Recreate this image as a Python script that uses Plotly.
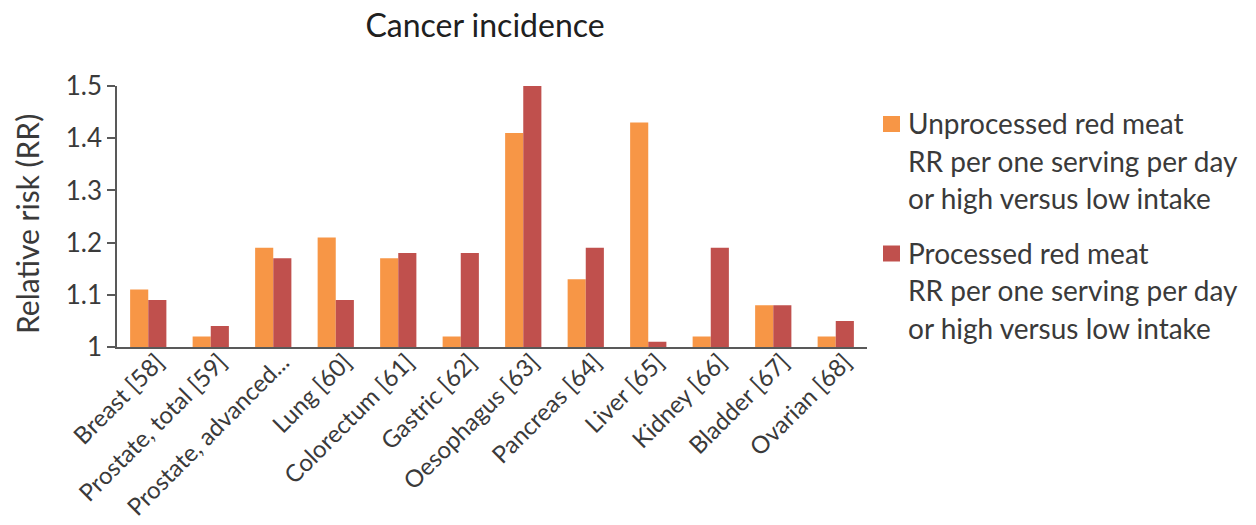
import plotly.graph_objects as go

# Cancer sites with reference numbers
categories = [
    "Breast [58]", "Prostate, total [59]", "Prostate, advanced...", "Lung [60]",
    "Colorectum [61]", "Gastric [62]", "Oesophagus [63]", "Pancreas [64]",
    "Liver [65]", "Kidney [66]", "Bladder [67]", "Ovarian [68]",
]
unprocessed_rr = [1.11, 1.02, 1.19, 1.21, 1.17, 1.02, 1.41, 1.13, 1.43, 1.02, 1.08, 1.02]
processed_rr = [1.09, 1.04, 1.17, 1.09, 1.18, 1.18, 1.50, 1.19, 1.01, 1.19, 1.08, 1.05]

y_tickvals = [1.0, 1.1, 1.2, 1.3, 1.4, 1.5]
y_ticktext = ["1", "1.1", "1.2", "1.3", "1.4", "1.5"]

legend_lines = [
    ["Unprocessed red meat", "RR per one serving per day", "or high versus low intake"],
    ["Processed red meat", "RR per one serving per day", "or high versus low intake"],
]

ORANGE = "#F79646"
RED = "#C0504D"
TEXT = "#3a3a3a"
AXIS = "#595959"
FONT = "Lato, 'Open Sans', sans-serif"

# Plot-area geometry in pixels
L, R, T, B = 117, 867, 86, 347
PW, PH = R - L, B - T

def px(x):
    return (x - L) / PW

def py(y):
    return (B - y) / PH

fig = go.Figure()
fig.add_trace(go.Bar(x=categories, y=unprocessed_rr, marker=dict(color=ORANGE, line=dict(width=0)),
                     name=legend_lines[0][0]))
fig.add_trace(go.Bar(x=categories, y=processed_rr, marker=dict(color=RED, line=dict(width=0)),
                     name=legend_lines[1][0]))

fig.update_layout(
    width=1256, height=525,
    margin=dict(l=L, r=1256 - R, t=T, b=525 - B),
    paper_bgcolor="white", plot_bgcolor="white",
    barmode="group", bargap=0.42, bargroupgap=0,
    showlegend=False,
    font=dict(family=FONT, color=TEXT),
    title=dict(text="Cancer incidence", x=485 / 1256, xanchor="center",
               y=1 - 26 / 525, yanchor="middle",
               font=dict(size=32, family=FONT, color="#202020")),
)

fig.update_yaxes(
    range=[1.0, 1.5], tickvals=y_tickvals, ticktext=y_ticktext,
    showgrid=False, zeroline=False, automargin=False,
    showline=True, linecolor=AXIS, linewidth=1.5,
    ticks="outside", ticklen=8, tickcolor=AXIS, tickwidth=1.5,
    tickfont=dict(size=26, family=FONT, color=TEXT),
)
fig.update_xaxes(
    showgrid=False, showline=True, linecolor=AXIS, linewidth=1.5,
    ticks="", tickangle=-45, automargin=False,
    ticklabelstandoff=-10, ticklabelshift=9,
    tickfont=dict(size=24, family=FONT, color=TEXT),
)

# Y-axis title
fig.add_annotation(xref="paper", yref="paper", x=px(27), y=py(224),
                   xanchor="center", yanchor="middle", showarrow=False, textangle=-90,
                   text="Relative risk (RR)", font=dict(size=30, family=FONT, color=TEXT))

# Legend drawn as swatches plus stacked text lines
line_gap = 37.5
for i, (color, lines) in enumerate(zip([ORANGE, RED], legend_lines)):
    y0 = 123 + i * 129.5
    fig.add_shape(type="rect", xref="paper", yref="paper",
                  x0=px(883), x1=px(900), y0=py(y0 + 9), y1=py(y0 - 7),
                  fillcolor=color, line=dict(width=0))
    for j, txt in enumerate(lines):
        fig.add_annotation(xref="paper", yref="paper",
                           x=px(906), y=py(y0 + j * line_gap),
                           xanchor="left", yanchor="middle", showarrow=False,
                           text=txt, font=dict(size=28, family=FONT, color=TEXT))

fig.write_html("out.html")
